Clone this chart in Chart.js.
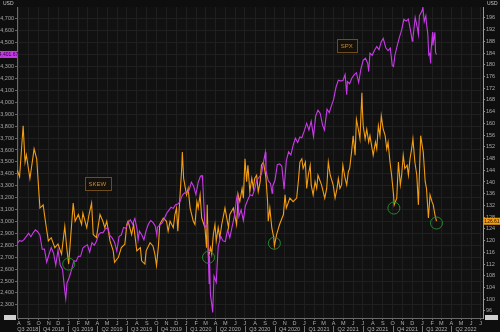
<!DOCTYPE html>
<html>
<head>
<meta charset="utf-8">
<script src="https://cdn.jsdelivr.net/npm/chart.js@4/dist/chart.umd.min.js"></script>
<style>
  html, body { margin: 0; padding: 0; background: #0e0e0e; }
  #wrap { width: 500px; height: 332px; }
</style>
</head>
<body>
<div id="wrap"><canvas id="chart" width="500" height="332"></canvas></div>
<script>
// SPX, weekly-ish closes (plus a few turning days)
const spxDates = [
  '2018-07-27','2018-08-03','2018-08-10','2018-08-17','2018-08-24','2018-08-31','2018-09-07','2018-09-14','2018-09-21','2018-09-28','2018-10-05','2018-10-12','2018-10-19','2018-10-26','2018-11-02','2018-11-09','2018-11-16','2018-11-23','2018-11-30','2018-12-07','2018-12-14','2018-12-21','2018-12-24','2018-12-28',
  '2019-01-04','2019-01-11','2019-01-18','2019-01-25','2019-02-01','2019-02-08','2019-02-15','2019-02-22','2019-03-01','2019-03-08','2019-03-15','2019-03-22','2019-03-29','2019-04-05','2019-04-12','2019-04-18','2019-04-26','2019-05-03','2019-05-10','2019-05-17','2019-05-24','2019-05-31','2019-06-07','2019-06-14','2019-06-21','2019-06-28','2019-07-05','2019-07-12','2019-07-19','2019-07-26','2019-08-02','2019-08-05','2019-08-09','2019-08-16','2019-08-23','2019-08-30','2019-09-06','2019-09-13','2019-09-20','2019-09-27','2019-10-02','2019-10-04','2019-10-11','2019-10-18','2019-10-25','2019-11-01','2019-11-08','2019-11-15','2019-11-22','2019-11-29','2019-12-06','2019-12-13','2019-12-20','2019-12-27',
  '2020-01-03','2020-01-10','2020-01-17','2020-01-24','2020-01-31','2020-02-07','2020-02-14','2020-02-19','2020-02-21','2020-02-28','2020-03-06','2020-03-12','2020-03-13','2020-03-16','2020-03-20','2020-03-23','2020-03-27','2020-04-03','2020-04-09','2020-04-17','2020-04-24','2020-05-01','2020-05-08','2020-05-15','2020-05-22','2020-05-29','2020-06-05','2020-06-08','2020-06-12','2020-06-19','2020-06-26','2020-07-02','2020-07-10','2020-07-17','2020-07-24','2020-07-31','2020-08-07','2020-08-14','2020-08-21','2020-08-28','2020-09-02','2020-09-04','2020-09-11','2020-09-18','2020-09-23','2020-09-25','2020-10-02','2020-10-09','2020-10-16','2020-10-23','2020-10-30','2020-11-06','2020-11-13','2020-11-20','2020-11-27','2020-12-04','2020-12-11','2020-12-18','2020-12-24','2020-12-31',
  '2021-01-08','2021-01-15','2021-01-22','2021-01-29','2021-02-05','2021-02-12','2021-02-19','2021-02-26','2021-03-04','2021-03-12','2021-03-19','2021-03-26','2021-04-01','2021-04-09','2021-04-16','2021-04-23','2021-04-30','2021-05-07','2021-05-12','2021-05-14','2021-05-21','2021-05-28','2021-06-04','2021-06-11','2021-06-18','2021-06-25','2021-07-02','2021-07-09','2021-07-16','2021-07-19','2021-07-23','2021-07-30','2021-08-06','2021-08-13','2021-08-20','2021-08-27','2021-09-02','2021-09-10','2021-09-17','2021-09-24','2021-09-30','2021-10-04','2021-10-08','2021-10-15','2021-10-22','2021-10-29','2021-11-05','2021-11-12','2021-11-19','2021-11-26','2021-12-01','2021-12-03','2021-12-10','2021-12-17','2021-12-20','2021-12-23','2021-12-31',
  '2022-01-03','2022-01-07','2022-01-12','2022-01-14','2022-01-18','2022-01-21','2022-01-24','2022-01-27','2022-01-28','2022-02-02','2022-02-03','2022-02-04','2022-02-09','2022-02-11','2022-02-14'
];
const spxValues = [
  2818, 2840, 2833, 2850, 2875, 2902, 2872, 2905, 2930, 2914, 2885, 2767, 2768, 2658, 2723, 2781, 2736, 2633, 2760, 2633, 2600, 2417, 2351, 2486,
  2532, 2596, 2671, 2665, 2707, 2708, 2776, 2793, 2804, 2743, 2822, 2800, 2834, 2893, 2907, 2905, 2940, 2946, 2881, 2860, 2826, 2752, 2873, 2887, 2950, 2942, 2990, 3014, 2977, 3026, 2932, 2844, 2919, 2889, 2847, 2926, 2979, 3007, 2992, 2962, 2887, 2952, 2970, 2986, 3023, 3067, 3093, 3120, 3110, 3141, 3146, 3169, 3221, 3240,
  3235, 3265, 3330, 3295, 3226, 3328, 3380, 3386, 3338, 2954, 2972, 2481, 2711, 2386, 2305, 2237, 2541, 2489, 2790, 2875, 2837, 2831, 2930, 2864, 2955, 3044, 3194, 3232, 3041, 3098, 3009, 3130, 3185, 3225, 3216, 3271, 3351, 3373, 3397, 3508, 3580, 3427, 3341, 3319, 3237, 3298, 3348, 3477, 3484, 3465, 3270, 3510, 3585, 3558, 3638, 3699, 3663, 3709, 3703, 3756,
  3825, 3768, 3841, 3714, 3887, 3934, 3907, 3811, 3768, 3943, 3913, 3975, 4020, 4129, 4185, 4180, 4181, 4233, 4063, 4174, 4156, 4204, 4230, 4247, 4166, 4281, 4352, 4370, 4327, 4258, 4412, 4395, 4437, 4468, 4442, 4509, 4537, 4458, 4433, 4455, 4308, 4300, 4391, 4471, 4545, 4605, 4697, 4682, 4698, 4595, 4513, 4538, 4712, 4620, 4568, 4726, 4766,
  4797, 4677, 4726, 4662, 4577, 4398, 4410, 4326, 4432, 4589, 4477, 4500, 4587, 4419, 4401.67
];

// SKEW index
const skewDates = [
  '2018-07-27','2018-08-03','2018-08-14','2018-08-20','2018-08-24','2018-09-04','2018-09-10','2018-09-17','2018-09-25','2018-10-01','2018-10-05','2018-10-15','2018-10-22','2018-10-31','2018-11-09','2018-11-20','2018-11-30','2018-12-11','2018-12-21','2018-12-27',
  '2019-01-02','2019-01-16','2019-01-22','2019-02-01','2019-02-11','2019-02-15','2019-02-27','2019-03-06','2019-03-14','2019-03-19','2019-03-29','2019-04-09','2019-04-18','2019-04-24','2019-04-30','2019-05-10','2019-05-20','2019-05-24','2019-06-05','2019-06-14','2019-06-25','2019-07-01','2019-07-05','2019-07-16','2019-07-22','2019-08-01','2019-08-12','2019-08-16','2019-08-26','2019-08-30','2019-09-11','2019-09-20','2019-09-26','2019-10-01','2019-10-07','2019-10-11','2019-10-22','2019-11-01','2019-11-06','2019-11-12','2019-11-22','2019-11-27','2019-12-02','2019-12-06','2019-12-13','2019-12-18','2019-12-20','2019-12-24',
  '2020-01-02','2020-01-07','2020-01-13','2020-01-23','2020-01-28','2020-02-03','2020-02-07','2020-02-13','2020-02-18','2020-02-28','2020-03-04','2020-03-06','2020-03-10','2020-03-16','2020-03-20','2020-03-25','2020-03-30','2020-04-03','2020-04-09','2020-04-14','2020-04-20','2020-04-30','2020-05-11','2020-05-15','2020-05-26','2020-06-05','2020-06-10','2020-06-15','2020-06-22','2020-06-26','2020-07-01','2020-07-06','2020-07-10','2020-07-16','2020-07-22','2020-07-27','2020-07-31','2020-08-06','2020-08-11','2020-08-17','2020-08-21','2020-08-27','2020-09-01','2020-09-04','2020-09-09','2020-09-11','2020-09-16','2020-09-22','2020-09-28','2020-09-30','2020-10-07','2020-10-16','2020-10-28','2020-11-02','2020-11-06','2020-11-17','2020-11-27','2020-12-08','2020-12-14','2020-12-18','2020-12-24','2020-12-28',
  '2021-01-04','2021-01-08','2021-01-13','2021-01-19','2021-01-22','2021-01-28','2021-02-03','2021-02-08','2021-02-12','2021-02-23','2021-03-05','2021-03-11','2021-03-16','2021-03-22','2021-03-31','2021-04-06','2021-04-12','2021-04-16','2021-04-21','2021-04-26','2021-04-30','2021-05-07','2021-05-12','2021-05-17','2021-05-21','2021-05-27','2021-06-01','2021-06-07','2021-06-11','2021-06-17','2021-06-22','2021-06-28','2021-06-30','2021-07-02','2021-07-08','2021-07-13','2021-07-19','2021-07-23','2021-07-28','2021-08-02','2021-08-09','2021-08-13','2021-08-18','2021-08-23','2021-08-27','2021-09-02','2021-09-08','2021-09-13','2021-09-17','2021-09-23','2021-09-28','2021-10-04','2021-10-06','2021-10-14','2021-10-19','2021-10-25','2021-10-29','2021-11-03','2021-11-08','2021-11-15','2021-11-19','2021-11-24','2021-11-29','2021-12-03','2021-12-09','2021-12-15','2021-12-20','2021-12-27','2021-12-30',
  '2022-01-04','2022-01-10','2022-01-14','2022-01-20','2022-01-25','2022-01-31','2022-02-04','2022-02-09','2022-02-14'
];
const skewValues = [
  144.0, 141.8, 159.2, 146.8, 149.2, 141.2, 145.8, 151.3, 147.9, 137.8, 131.1, 132.2, 126.6, 119.9, 121.0, 117.6, 118.8, 115.4, 124.9, 117.6,
  112.0, 132.8, 126.6, 128.9, 125.5, 129.4, 124.4, 128.9, 132.8, 122.1, 121.0, 128.9, 126.6, 124.4, 126.6, 119.9, 116.5, 112.6, 114.3, 117.6, 118.8, 125.5, 126.6, 122.1, 125.5, 116.5, 117.6, 113.1, 112.0, 116.5, 119.3, 118.2, 115.4, 111.5, 118.2, 125.5, 127.7, 126.6, 123.2, 126.6, 124.4, 128.9, 131.1, 123.2, 135.6, 144.6, 150.2, 141.2,
  135.6, 137.8, 131.1, 126.6, 125.5, 133.3, 131.1, 135.6, 127.7, 124.4, 117.6, 132.2, 114.3, 117.6, 115.4, 122.1, 125.5, 119.9, 124.4, 121.0, 125.5, 131.1, 124.4, 128.9, 131.1, 125.5, 135.6, 133.3, 137.8, 134.5, 147.9, 140.1, 145.7, 136.7, 141.2, 137.8, 141.2, 142.3, 136.7, 140.1, 145.7, 146.8, 143.5, 141.2, 133.3, 126.6, 131.1, 124.4, 121.0, 118.2, 122.1, 125.5, 128.9, 135.6, 131.1, 134.5, 133.3, 134.5, 141.2, 146.8, 147.9, 144.6,
  146.8, 137.8, 142.3, 145.7, 139.0, 135.6, 140.1, 137.8, 142.3, 139.0, 134.5, 137.8, 146.8, 142.3, 139.0, 134.5, 137.8, 141.2, 137.8, 139.0, 145.7, 141.2, 139.0, 143.5, 144.6, 150.2, 155.8, 149.1, 161.4, 158.0, 154.7, 170.4, 163.7, 159.2, 154.7, 158.0, 153.6, 155.8, 152.4, 149.1, 153.6, 151.3, 159.2, 155.8, 162.5, 158.0, 155.8, 151.3, 153.6, 146.8, 142.3, 135.6, 132.2, 134.5, 146.8, 139.0, 142.3, 149.1, 144.6, 145.7, 142.3, 147.9, 151.3, 154.7, 146.8, 142.3, 132.2, 155.8, 153.6,
  150.2, 140.1, 137.8, 127.7, 135.6, 133.3, 132.2, 128.9, 126.61
];

// green rings on the SKEW lows
const ringDates = ['2019-01-02', '2020-03-10', '2020-09-30', '2021-10-05', '2022-02-14'];
const ringValues = [112.0, 114.3, 119.1, 131.1, 126.0];

const spxTicks = [2300, 2400, 2500, 2600, 2700, 2800, 2900, 3000, 3100, 3200, 3300, 3400, 3500, 3600, 3700, 3800, 3900, 4000, 4100, 4200, 4300, 4400, 4500, 4600, 4700];
const skewTicks = [96, 100, 104, 108, 112, 116, 120, 124, 128, 132, 136, 140, 144, 148, 152, 156, 160, 164, 168, 172, 176, 180, 184, 188, 192, 196];
const quarterLabels = ['Q3 2018', 'Q4 2018', 'Q1 2019', 'Q2 2019', 'Q3 2019', 'Q4 2019', 'Q1 2020', 'Q2 2020', 'Q3 2020', 'Q4 2020', 'Q1 2021', 'Q2 2021', 'Q3 2021', 'Q4 2021', 'Q1 2022', 'Q2 2022'];
const MONTH_LETTERS = 'JFMAMJJASOND';

const FONT = 'Liberation Sans';
const SPX_COLOR = '#c83ae8';
const SKEW_COLOR = '#f29d14';

const day = s => Date.UTC(+s.slice(0, 4), +s.slice(5, 7) - 1, +s.slice(8, 10)) / 864e5;
const X_MIN = day('2018-07-26');
const X_MAX = day('2022-07-08');

const monthStarts = [];
for (let y = 2018, m = 7; y < 2022 || m <= 6; m++) {
  if (m > 11) { m = 0; y++; }
  monthStarts.push(Date.UTC(y, m, 1) / 864e5);
}

const pts = (dates, vals) => dates.map((d, i) => ({ x: day(d), y: vals[i] }));

const decor = {
  id: 'decor',
  beforeDraw(chart) {
    const c = chart.ctx;
    c.save();
    c.fillStyle = '#0e0e0e';
    c.fillRect(0, 0, chart.width, chart.height);
    const a = chart.chartArea;
    c.fillStyle = '#111111';
    c.fillRect(a.left, a.top, a.right - a.left, a.bottom - a.top);
    c.restore();
  },
  afterDraw(chart) {
    const c = chart.ctx;
    const x = chart.scales.x, yL = chart.scales.yL, yR = chart.scales.yR;
    const a = chart.chartArea;
    c.save();
    c.textBaseline = 'middle';

    // quarter row
    c.font = `5.5px ${FONT}`;
    c.fillStyle = '#b0b0b0';
    c.strokeStyle = '#777';
    c.lineWidth = 1;
    c.textAlign = 'center';
    quarterLabels.forEach(q => {
      const qn = +q[1], yr = +q.slice(3);
      const s = Date.UTC(yr, (qn - 1) * 3, 1) / 864e5;
      const e = Date.UTC(yr, qn * 3, 1) / 864e5;
      const p0 = x.getPixelForValue(Math.max(s, X_MIN));
      const p1 = x.getPixelForValue(Math.min(e, X_MAX));
      c.fillText(q, (p0 + p1) / 2, a.bottom + 11);
      if (s > X_MIN) {
        const px = Math.round(x.getPixelForValue(s)) + 0.5;
        c.beginPath(); c.moveTo(px, a.bottom + 8); c.lineTo(px, a.bottom + 14); c.stroke();
      }
    });

    // currency captions
    c.fillStyle = '#c8c8c8';
    c.font = `5px ${FONT}`;
    c.textAlign = 'left';
    c.fillText('USD', 3, 4);
    c.fillText('USD', a.right + 4, 4);

    // small boxes at the axis ends
    c.fillStyle = '#cfcfcf';
    c.fillRect(4, a.bottom - 3, 12, 5);
    c.fillRect(a.right + 2, a.bottom - 3, 13, 5);

    // last value tags
    const tag = (text, yPix, left, w, bg, fg) => {
      c.fillStyle = bg;
      c.fillRect(left, yPix - 3.5, w, 7);
      c.fillStyle = fg;
      c.font = `5px ${FONT}`;
      c.textAlign = 'center';
      c.fillText(text, left + w / 2, yPix + 0.3);
    };
    const lastSpx = spxValues[spxValues.length - 1];
    const lastSkew = skewValues[skewValues.length - 1];
    tag(lastSpx.toLocaleString('en-US', { minimumFractionDigits: 2 }), yL.getPixelForValue(lastSpx), 0, a.left, SPX_COLOR, '#2a0033');
    tag(lastSkew.toFixed(2), yR.getPixelForValue(lastSkew), a.right + 1, chart.width - a.right - 1, SKEW_COLOR, '#1a1000');

    // series captions
    const caption = (text, px, py) => {
      c.font = `6px ${FONT}`;
      const w = c.measureText(text).width + 8;
      c.fillStyle = '#15110a';
      c.fillRect(px - w / 2, py - 6.5, w, 13);
      c.strokeStyle = '#6e4c1c';
      c.lineWidth = 1;
      c.strokeRect(Math.round(px - w / 2) + 0.5, Math.round(py - 6.5) + 0.5, Math.round(w), 13);
      c.fillStyle = '#c98a32';
      c.textAlign = 'center';
      c.fillText(text, px, py + 0.5);
    };
    caption('SPX', x.getPixelForValue(day('2021-05-12')), yL.getPixelForValue(4477));
    caption('SKEW', x.getPixelForValue(day('2019-04-01')), yR.getPixelForValue(139.5));
    c.restore();
  }
};

const tickFont = { family: FONT, size: 5.5 };

new Chart(document.getElementById('chart'), {
  type: 'line',
  data: {
    datasets: [
      {
        label: 'rings', data: pts(ringDates, ringValues), yAxisID: 'yR', showLine: false,
        pointRadius: 6, pointHoverRadius: 6, pointBorderColor: '#1f8a2c', pointBorderWidth: 1,
        pointBackgroundColor: 'rgba(0,0,0,0)', order: 0
      },
      {
        label: 'SPX', data: pts(spxDates, spxValues), yAxisID: 'yL',
        borderColor: SPX_COLOR, borderWidth: 1.1, pointRadius: 0, tension: 0, order: 1
      },
      {
        label: 'SKEW', data: pts(skewDates, skewValues), yAxisID: 'yR',
        borderColor: SKEW_COLOR, borderWidth: 1.1, pointRadius: 0, tension: 0, order: 2
      }
    ]
  },
  options: {
    responsive: false,
    animation: false,
    events: [],
    layout: { padding: { top: 3, left: 0, right: 0, bottom: 0 } },
    plugins: { legend: { display: false }, tooltip: { enabled: false } },
    scales: {
      x: {
        type: 'linear', min: X_MIN, max: X_MAX,
        afterBuildTicks: s => { s.ticks = monthStarts.map(v => ({ value: v })); },
        afterFit: s => { s.height = 14; },
        grid: { color: '#1f1f1f', tickLength: 2, tickColor: '#666' },
        border: { color: '#6a6a6a' },
        ticks: {
          autoSkip: false, maxRotation: 0, padding: 0, color: '#b0b0b0', font: tickFont,
          callback: v => MONTH_LETTERS[new Date(v * 864e5).getUTCMonth()]
        }
      },
      yL: {
        position: 'left', min: 2190, max: 4800,
        afterBuildTicks: s => { s.ticks = spxTicks.map(v => ({ value: v })); },
        afterFit: s => { s.width = 17; },
        grid: { color: '#1f1f1f', tickLength: 2, tickColor: '#666' },
        border: { color: '#6a6a6a' },
        ticks: { autoSkip: false, padding: 1, color: '#a8a8a8', font: tickFont, callback: v => v.toLocaleString('en-US') }
      },
      yR: {
        position: 'right', min: 93.6, max: 199.7,
        afterBuildTicks: s => { s.ticks = skewTicks.map(v => ({ value: v })); },
        afterFit: s => { s.width = 17; },
        grid: { drawOnChartArea: false, tickLength: 2, tickColor: '#888' },
        border: { color: '#9a9a9a' },
        ticks: { autoSkip: false, padding: 1, color: '#a8a8a8', font: tickFont }
      }
    }
  },
  plugins: [decor]
});
</script>
</body>
</html>
